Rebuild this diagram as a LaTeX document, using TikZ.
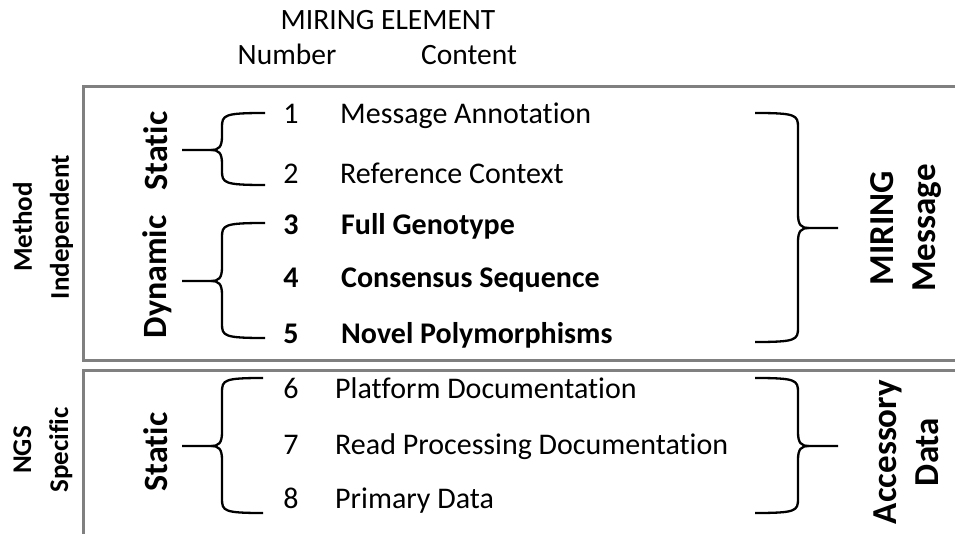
\documentclass[tikz,border=0pt]{standalone}
\usepackage{fontspec}
\setmainfont{Carlito}[Ligatures=NoCommon]
\definecolor{boxgray}{HTML}{808080}
\newcommand\mybraceL[6]{% xe xv xt y1 ym y2
  \draw[bracestyle] (#1,#4) .. controls (#2+2,#4) and (#2,#4+2) .. (#2,#4+14) -- (#2,#5-14) .. controls (#2,#5-3) and (#2-3,#5) .. (#2-11,#5) -- (#3,#5);
  \draw[bracestyle] (#1,#6) .. controls (#2+2,#6) and (#2,#6-2) .. (#2,#6-14) -- (#2,#5+14) .. controls (#2,#5+3) and (#2-3,#5) .. (#2-11,#5);}
\newcommand\mybraceR[6]{% xe xv xt y1 ym y2
  \draw[bracestyle] (#1,#4) .. controls (#2-2,#4) and (#2,#4+2) .. (#2,#4+14) -- (#2,#5-14) .. controls (#2,#5-3) and (#2+3,#5) .. (#2+11,#5) -- (#3,#5);
  \draw[bracestyle] (#1,#6) .. controls (#2-2,#6) and (#2,#6-2) .. (#2,#6-14) -- (#2,#5+14) .. controls (#2,#5+3) and (#2+3,#5) .. (#2+11,#5);}
\begin{document}
\begin{tikzpicture}[x=1pt,y=-1pt,
  boxline/.style={draw=boxgray, line width=3pt},
  bracestyle/.style={draw=black, line width=2.3pt},
  hdr/.style={anchor=base, inner sep=0pt, font=\fontsize{29.5}{35}\selectfont},
  num/.style={anchor=base, inner sep=0pt, font=\fontsize{30}{35}\selectfont},
  item/.style={anchor=base west, inner sep=0pt, font=\fontsize{30}{35}\selectfont},
  bnum/.style={num, font=\fontsize{30}{35}\selectfont\bfseries},
  bitem/.style={item, font=\fontsize{30}{35}\selectfont\bfseries},
  sidelab/.style={rotate=90, align=center, inner sep=0pt, font=\fontsize{27}{37}\selectfont\bfseries},
  innerlab/.style={rotate=90, inner sep=0pt, font=\fontsize{34}{40}\selectfont\bfseries},
  rightlab/.style={rotate=90, align=center, inner sep=0pt, font=\fontsize{35}{42}\selectfont\bfseries}]
\useasboundingbox (0,0) rectangle (955,534);
\clip (0,0) rectangle (955,534);
\fill[white] (0,0) rectangle (955,534);

% boxes
\draw[boxline] (990,87) -- (83,87) -- (83,360) -- (990,360);
\draw[boxline] (990,370) -- (83,370) -- (83,560);

% header
\node[hdr] (title) at (388,30) {MIRING ELEMENT};
\node[hdr] (hnum) at (287,65) {Number};
\node[hdr] (hcont) at (469,65) {Content};

% numbers and contents
\node[num] (n1) at (291,124) {1};
\node[item] (c1) at (340,124) {Message Annotation};
\node[num] (n2) at (291,184) {2};
\node[item] (c2) at (340,184) {Reference Context};
\node[bnum] (n3) at (291,235) {3};
\node[bitem] (c3) at (341,235) {Full Genotype};
\node[bnum] (n4) at (291,288) {4};
\node[bitem] (c4) at (341,288) {Consensus Sequence};
\node[bnum] (n5) at (291,343) {5};
\node[bitem] (c5) at (341,343) {Novel Polymorphisms};
\node[num] (n6) at (291,398) {6};
\node[item] (c6) at (335,398) {Platform Documentation};
\node[num] (n7) at (291,454) {7};
\node[item] (c7) at (335,454) {Read Processing Documentation};
\node[num] (n8) at (291,508) {8};
\node[item] (c8) at (335,508) {Primary Data};

% side labels
\node[sidelab] (mi) at (43,227) {Method\\Independent};
\node[sidelab] (ngs) at (43,450) {NGS\\Specific};
\node[innerlab] (st1) at (156,151) {Static};
\node[innerlab] (dyn) at (157,277) {Dynamic};
\node[innerlab] (st2) at (156,452) {Static};
\node[rightlab] (mm) at (906,228) {MIRING\\Message};
\node[rightlab] (ad) at (906,452) {Accessory\\Data};

% braces
\mybraceL{265}{222}{182}{113}{150}{185}
\mybraceL{265}{222}{182}{223}{281}{338}
\mybraceL{263}{222}{182}{378}{446}{513}
\mybraceR{755}{798}{838}{113}{228}{342}
\mybraceR{755}{798}{838}{378}{446}{513}
\end{tikzpicture}
\end{document}
